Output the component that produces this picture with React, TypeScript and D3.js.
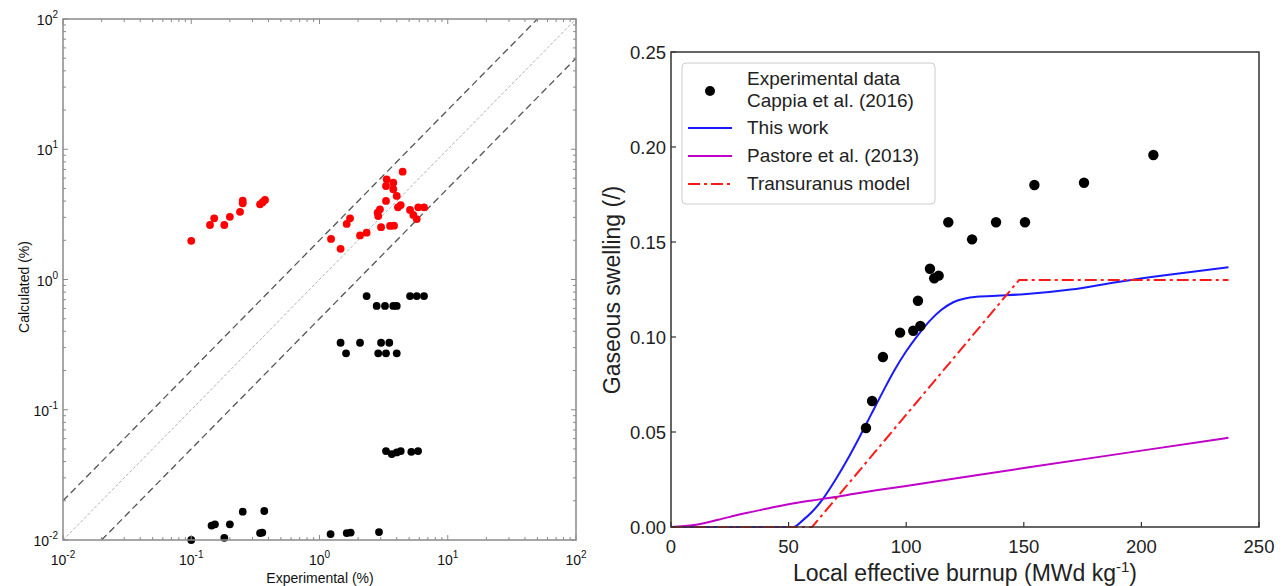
import React from "react";
import * as d3 from "d3";

// ---------- Left panel data (Experimental vs Calculated, %) ----------
const redExp = [0.10, 0.14, 0.151, 0.181, 0.20, 0.24, 0.252, 0.252, 0.344, 0.36, 0.376,
  1.23, 1.46, 1.63, 1.73, 2.07, 2.33, 2.84, 2.96, 2.87, 3.02, 3.30, 3.34, 3.30, 3.55, 3.81,
  3.76, 3.76, 4.0, 4.09, 4.30, 4.45, 5.08, 5.39, 5.73, 5.89, 6.53];
const redCalc = [1.98, 2.62, 2.95, 2.62, 3.03, 3.31, 4.03, 3.85, 3.78, 3.92, 4.08,
  2.05, 1.72, 2.67, 2.95, 2.18, 2.29, 3.26, 3.46, 3.07, 2.52, 4.01, 5.88, 5.22, 2.58, 2.59,
  5.53, 4.93, 4.38, 3.58, 3.73, 6.73, 3.42, 3.13, 2.91, 3.58, 3.58];

const blackExp = [2.33, 2.79, 3.24, 3.76, 4.0, 5.08, 5.73, 6.53,
  1.46, 2.07, 3.02, 3.50, 1.61, 2.87, 3.30, 4.0,
  3.30, 3.66, 4.0, 4.3, 5.2, 5.87,
  0.10, 0.144, 0.153, 0.181, 0.20, 0.252, 0.344, 0.358, 0.371, 1.22, 1.63, 1.75, 2.91];
const blackCalc = [0.746, 0.627, 0.627, 0.627, 0.627, 0.746, 0.746, 0.746,
  0.327, 0.327, 0.327, 0.327, 0.271, 0.271, 0.271, 0.271,
  0.0482, 0.0457, 0.0470, 0.0482, 0.0475, 0.0482,
  0.0100, 0.0129, 0.0132, 0.0104, 0.0132, 0.0165, 0.0113, 0.0114, 0.0167, 0.0111, 0.0113, 0.0114, 0.0115];

const logTicks = [-2, -1, 0, 1, 2];
const diagFactors = [2, 1, 0.5];

// ---------- Right panel data (Gaseous swelling vs burnup) ----------
const expBurnup = [82.9, 85.5, 90.1, 97.4, 103.0, 106.0, 105.0, 110.1, 111.9, 113.8, 117.9, 128.0, 138.2, 150.5, 154.5, 175.6, 205.1];
const expSwelling = [0.0521, 0.0663, 0.0895, 0.1023, 0.1033, 0.1058, 0.1191, 0.1359, 0.1309, 0.1323, 0.1604, 0.1514, 0.1604, 0.1604, 0.180, 0.1812, 0.1958];

const thisWorkBurnup = [0, 52, 56, 60, 65, 70, 75, 80, 85, 90, 95, 100, 105, 110, 115, 120, 125, 130, 140, 150, 170, 190, 210, 237];
const thisWorkSwelling = [0, 0, 0.0035, 0.008, 0.0155, 0.025, 0.0355, 0.047, 0.059, 0.071, 0.0825, 0.0925, 0.101, 0.1085, 0.1143, 0.1183, 0.1203, 0.1212, 0.1218, 0.1225, 0.125, 0.129, 0.1325, 0.1367];

const pastoreBurnup = [0, 10, 20, 30, 40, 50, 60, 70, 78, 100, 150, 200, 237];
const pastoreSwelling = [0, 0.001, 0.0038, 0.0068, 0.0095, 0.012, 0.014, 0.0158, 0.0175, 0.0216, 0.031, 0.0402, 0.047];

const transBurnup = [0, 60, 148, 237];
const transSwelling = [0, 0, 0.13, 0.13];

const xTicksR = [0, 50, 100, 150, 200, 250];
const yTicksR = [0, 0.05, 0.1, 0.15, 0.2, 0.25];

const legendLabels = ["This work", "Pastore et al. (2013)", "Transuranus model"];

export default function App() {
  const font = "'Liberation Sans', Arial, Helvetica, sans-serif";

  // Left scales
  const xL = d3.scaleLog().domain([1e-2, 1e2]).range([63, 576]);
  const yL = d3.scaleLog().domain([1e-2, 1e2]).range([540, 19]);
  const [lx0, lx1] = xL.range();
  const [ly0, ly1] = yL.range();

  const minorVals: number[] = [];
  for (let e = -2; e < 2; e++) for (let m = 2; m <= 9; m++) minorVals.push(m * Math.pow(10, e));

  // Right scales
  const xR = d3.scaleLinear().domain([0, 250]).range([671, 1259]);
  const yR = d3.scaleLinear().domain([0, 0.25]).range([527, 52]);
  const smooth = d3.line<[number, number]>().x(d => xR(d[0])).y(d => yR(d[1])).curve(d3.curveMonotoneX);
  const straight = d3.line<[number, number]>().x(d => xR(d[0])).y(d => yR(d[1]));
  const mk = (a: number[], b: number[]) => a.map((v, i) => [v, b[i]] as [number, number]);

  const axisGrey = "#8a8a8a";
  const lineColors = ["#1a1aff", "#c000c8", "#ff1a1a"];
  const lineDash = [undefined, undefined, "12,4,3,4"];
  const paths = [
    smooth(mk(thisWorkBurnup, thisWorkSwelling)),
    smooth(mk(pastoreBurnup, pastoreSwelling)),
    straight(mk(transBurnup, transSwelling)),
  ];

  return (
    <svg width={1285} height={586} style={{ position: "absolute", left: 0, top: 0, background: "#fff" }} fontFamily={font}>
      <defs>
        <clipPath id="clipL"><rect x={lx0} y={ly1} width={lx1 - lx0} height={ly0 - ly1} /></clipPath>
      </defs>

      {/* ---------- Left panel ---------- */}
      <g clipPath="url(#clipL)">
        {diagFactors.map((f, i) => (
          <line key={i} x1={xL(1e-2)} y1={yL(1e-2 * f)} x2={xL(1e2)} y2={yL(1e2 * f)}
            stroke={f === 1 ? "#b0b0b0" : "#555"} strokeWidth={f === 1 ? 1 : 1.3}
            strokeDasharray={f === 1 ? "3,2" : "7,4"} />
        ))}
      </g>
      {redExp.map((v, i) => (
        <circle key={"r" + i} cx={xL(v)} cy={yL(redCalc[i])} r={3.9} fill="#ff0000" />
      ))}
      {blackExp.map((v, i) => (
        <circle key={"b" + i} cx={xL(v)} cy={yL(blackCalc[i])} r={3.9} fill="#000" />
      ))}
      <rect x={lx0} y={ly1} width={lx1 - lx0} height={ly0 - ly1} fill="none" stroke={axisGrey} strokeWidth={1.5} />
      {logTicks.map(e => {
        const v = Math.pow(10, e);
        return (
          <g key={"mt" + e} stroke={axisGrey} strokeWidth={1}>
            <line x1={xL(v)} x2={xL(v)} y1={ly0} y2={ly0 - 5} />
            <line x1={xL(v)} x2={xL(v)} y1={ly1} y2={ly1 + 5} />
            <line y1={yL(v)} y2={yL(v)} x1={lx0} x2={lx0 + 5} />
            <line y1={yL(v)} y2={yL(v)} x1={lx1} x2={lx1 - 5} />
          </g>
        );
      })}
      {minorVals.map((v, i) => (
        <g key={"mn" + i} stroke={axisGrey} strokeWidth={1}>
          <line x1={xL(v)} x2={xL(v)} y1={ly0} y2={ly0 - 3} />
          <line x1={xL(v)} x2={xL(v)} y1={ly1} y2={ly1 + 3} />
          <line y1={yL(v)} y2={yL(v)} x1={lx0} x2={lx0 + 3} />
          <line y1={yL(v)} y2={yL(v)} x1={lx1} x2={lx1 - 3} />
        </g>
      ))}
      {logTicks.map(e => (
        <text key={"xl" + e} x={xL(Math.pow(10, e))} y={565} textAnchor="middle" fontSize={14} fill="#111">
          10<tspan fontSize={10} dy={-7}>{e}</tspan>
        </text>
      ))}
      {logTicks.map(e => (
        <text key={"yl" + e} x={58} y={yL(Math.pow(10, e)) + 6} textAnchor="end" fontSize={14} fill="#111">
          10<tspan fontSize={10} dy={-7}>{e}</tspan>
        </text>
      ))}
      <text x={320} y={583} textAnchor="middle" fontSize={14} fill="#111">Experimental (%)</text>
      <text transform="translate(29,287) rotate(-90)" textAnchor="middle" fontSize={14} fill="#111">Calculated (%)</text>

      {/* ---------- Right panel ---------- */}
      {paths.map((d, i) => (
        <path key={"s" + i} d={d || ""} fill="none" stroke={lineColors[i]} strokeWidth={2}
          strokeDasharray={lineDash[i]} />
      ))}
      {expBurnup.map((v, i) => (
        <circle key={"e" + i} cx={xR(v)} cy={yR(expSwelling[i])} r={5.2} fill="#000" />
      ))}
      <rect x={xR(0)} y={yR(0.25)} width={xR(250) - xR(0)} height={yR(0) - yR(0.25)} fill="none" stroke="#333" strokeWidth={1.5} />
      {xTicksR.map(t => (
        <g key={"xt" + t}>
          <line x1={xR(t)} x2={xR(t)} y1={yR(0)} y2={yR(0) - 5} stroke="#333" strokeWidth={1.2} />
          <text x={xR(t)} y={553} textAnchor="middle" fontSize={18.5} fill="#222">{t}</text>
        </g>
      ))}
      {yTicksR.map(t => (
        <g key={"yt" + t}>
          <line x1={xR(0)} x2={xR(0) + 5} y1={yR(t)} y2={yR(t)} stroke="#333" strokeWidth={1.2} />
          <text x={666} y={yR(t) + 6.5} textAnchor="end" fontSize={18.5} fill="#222">{t.toFixed(2)}</text>
        </g>
      ))}
      <text x={965} y={581} textAnchor="middle" fontSize={23} fill="#222">
        Local effective burnup (MWd kg<tspan fontSize={15} dy={-9}>-1</tspan><tspan dy={9}>)</tspan>
      </text>
      <text transform="translate(620,290) rotate(-90)" textAnchor="middle" fontSize={23} fill="#222">Gaseous swelling (/)</text>

      {/* Legend */}
      <rect x={682} y={63} width={253} height={141} rx={4} fill="#fff" stroke="#cccccc" strokeWidth={1} />
      <circle cx={710} cy={91} r={5} fill="#000" />
      <text x={747} y={85} fontSize={19} fill="#222">Experimental data</text>
      <text x={747} y={107} fontSize={19} fill="#222">Cappia et al. (2016)</text>
      {legendLabels.map((lab, i) => (
        <g key={"lg" + i}>
          <line x1={688} x2={732} y1={128 + i * 28} y2={128 + i * 28} stroke={lineColors[i]} strokeWidth={2}
            strokeDasharray={lineDash[i]} />
          <text x={747} y={134 + i * 28} fontSize={19} fill="#222">{lab}</text>
        </g>
      ))}
    </svg>
  );
}
